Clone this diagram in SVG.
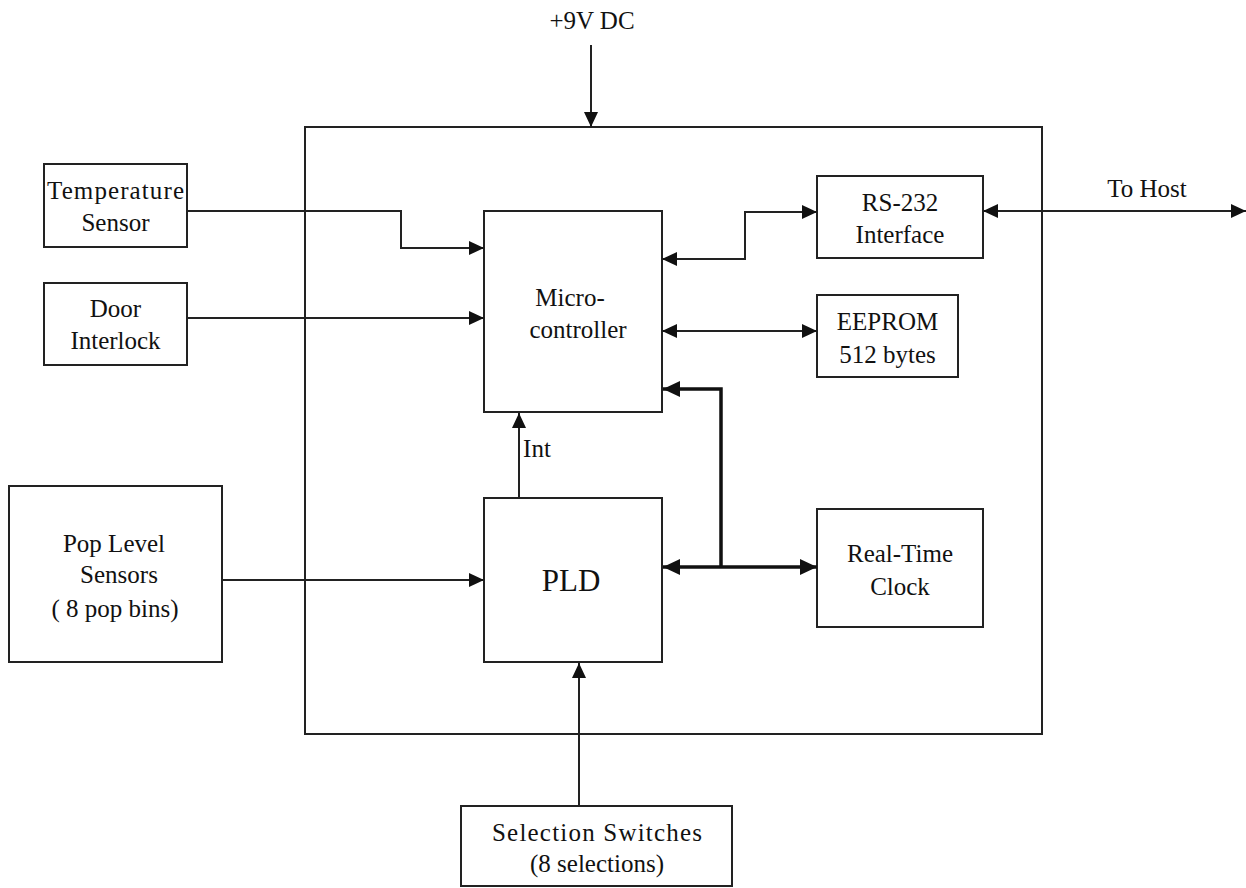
<svg xmlns="http://www.w3.org/2000/svg" width="1246" height="888" viewBox="0 0 1246 888">
<style>
.box{fill:#fff;stroke:#222;stroke-width:2}
.ln{fill:none;stroke:#222;stroke-width:2}
.bus{fill:none;stroke:#111;stroke-width:3.5}
.t{font-family:'Liberation Serif','Times New Roman',Times,'Nimbus Roman','Nimbus Roman No9 L','DejaVu Serif','Noto Serif',FreeSerif,Tinos,serif;font-size:25px;fill:#111;text-anchor:middle}
</style>
<defs>
<marker id="a" markerUnits="userSpaceOnUse" markerWidth="16" markerHeight="14" refX="15" refY="7" orient="auto-start-reverse"><path d="M0,0 L15,7 L0,14 Z" fill="#111"/></marker>
<marker id="b" markerUnits="userSpaceOnUse" markerWidth="18" markerHeight="16" refX="17" refY="8" orient="auto-start-reverse"><path d="M0,0 L17,8 L0,16 Z" fill="#111"/></marker>
</defs>
<rect width="1246" height="888" fill="#fff"/>
<g id="board"><rect class="box" x="305" y="127" width="737" height="607" fill="none"/></g>
<g id="power"><text class="t" x="592" y="29">+9V DC</text></g>
<g id="temp"><rect class="box" x="44" y="164" width="143" height="83"/><text class="t" x="115.5" y="199" textLength="137">Temperature</text><text class="t" x="115.5" y="231">Sensor</text></g>
<g id="door"><rect class="box" x="44" y="283" width="143" height="82"/><text class="t" x="115.5" y="317">Door</text><text class="t" x="115.5" y="349">Interlock</text></g>
<g id="pop"><rect class="box" x="9" y="486" width="213" height="176"/><text class="t" x="114" y="552">Pop Level</text><text class="t" x="119" y="583">Sensors</text><text class="t" x="115" y="617">( 8 pop bins)</text></g>
<g id="mcu"><rect class="box" x="484" y="211" width="178" height="201"/><text class="t" x="570" y="306">Micro-</text><text class="t" x="578" y="338">controller</text></g>
<g id="pld"><rect class="box" x="484" y="498" width="178" height="164"/><text class="t" x="571" y="591" style="font-size:31px">PLD</text></g>
<g id="rs232"><rect class="box" x="817" y="176" width="166" height="82"/><text class="t" x="900" y="211">RS-232</text><text class="t" x="900" y="243">Interface</text></g>
<g id="eeprom"><rect class="box" x="817" y="295" width="141" height="82"/><text class="t" x="887.5" y="330">EEPROM</text><text class="t" x="887.5" y="363">512 bytes</text></g>
<g id="rtc"><rect class="box" x="817" y="509" width="166" height="118"/><text class="t" x="900" y="562">Real-Time</text><text class="t" x="900" y="595">Clock</text></g>
<g id="switches"><rect class="box" x="461" y="806" width="271" height="80"/><text class="t" x="597" y="841" textLength="210">Selection Switches</text><text class="t" x="597" y="872">(8 selections)</text></g>
<g id="connectors">
<line class="ln" x1="591" y1="45" x2="591" y2="127" marker-end="url(#a)"/>
<polyline class="ln" points="187,211 401,211 401,248 484,248" marker-end="url(#a)"/>
<line class="ln" x1="187" y1="318" x2="484" y2="318" marker-end="url(#a)"/>
<line class="ln" x1="222" y1="580" x2="484" y2="580" marker-end="url(#a)"/>
<polyline class="ln" points="662,259 745,259 745,212 817,212" marker-start="url(#a)" marker-end="url(#a)"/>
<line class="ln" x1="662" y1="331" x2="817" y2="331" marker-start="url(#a)" marker-end="url(#a)"/>
<line class="ln" x1="983" y1="211" x2="1246" y2="211" marker-start="url(#a)" marker-end="url(#a)"/>
<line class="ln" x1="519" y1="498" x2="519" y2="413" marker-end="url(#a)"/>
<line class="ln" x1="579" y1="806" x2="579" y2="663" marker-end="url(#a)"/>
<polyline class="bus" points="721,567 721,389 663,389" marker-end="url(#b)"/>
<line class="bus" x1="663" y1="567" x2="817" y2="567" marker-start="url(#b)" marker-end="url(#b)"/>
<text class="t" x="537" y="457">Int</text>
<text class="t" x="1147" y="197">To Host</text>
</g>
</svg>
